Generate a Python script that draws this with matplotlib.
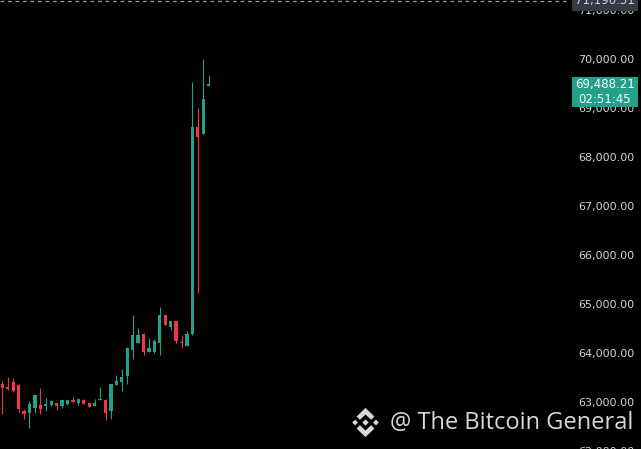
import numpy as np
import matplotlib
matplotlib.use("Agg")
import matplotlib.pyplot as plt
import matplotlib.transforms as mtransforms
from matplotlib.patches import Rectangle, Polygon


# candles
opens = [63367, 63306, 63408, 63346, 62816, 62775, 62877, 62938, 62918, 62938,
         62979, 62918, 62959, 63040, 62979, 63040, 62979, 62918, 63040, 63040,
         62816, 63346, 63408, 63530, 64061, 64204, 64387, 64020, 64020, 64204,
         64775, 64530, 64653, 64224, 64142, 64387, 68612, 68469, 69450]
highs = [63428, 63510, 63489, 63360, 62856, 63020, 63150, 63285, 63081, 63040,
         62985, 63045, 63045, 63102, 63065, 63061, 63000, 63061, 63306, 63061,
         63375, 63550, 63673, 64122, 64775, 64510, 64408, 64306, 64285, 64938,
         64780, 64660, 64660, 64367, 64448, 69531, 69000, 70000, 69673]
lows = [62754, 63250, 63210, 62795, 62652, 62469, 62775, 62754, 62816, 62918,
        62836, 62877, 62938, 62979, 62938, 62955, 62895, 62915, 63035, 62632,
        62652, 63340, 63224, 63367, 63877, 64200, 63959, 64015, 63999, 63959,
        64565, 64469, 64204, 64102, 64135, 64367, 65224, 68465, 69440]
closes = [63285, 63265, 63224, 62856, 62754, 62959, 63142, 62856, 62959, 63020,
          62918, 63040, 63040, 63000, 63061, 62959, 62897, 62979, 63061, 62775,
          63367, 63428, 63510, 64102, 64367, 64367, 64020, 64102, 64244, 64775,
          64571, 64653, 64244, 64204, 64387, 68612, 68408, 69184, 69488.21]

price_ticks = [62000, 63000, 64000, 65000, 66000, 67000, 68000, 69000, 70000, 71000]
last_price = 69488.21
countdown = "02:51:45"
high_line = 71190.51
watermark = "@ The Bitcoin General"

up_col = "#22a08a"
down_col = "#f23645"
bg = "#000000"

W, H = 641, 449
fig = plt.figure(figsize=(W / 100, H / 100), dpi=100, facecolor=bg)
# axes a bit taller than the figure so the 62k / 71k labels get cut like in the screenshot
ax = fig.add_axes([0, -10 / H, 570 / W, (H + 20) / H], facecolor=bg)

x = np.arange(len(opens))
o = np.array(opens)
c = np.array(closes)
cols = [up_col if cc >= oo else down_col for oo, cc in zip(o, c)]
bottoms = np.minimum(o, c)
heights = np.maximum(np.abs(c - o), 22)

ax.vlines(x, lows, highs, colors=cols, linewidth=0.8, zorder=2)
ax.bar(x, heights, bottom=bottoms, width=0.6, color=cols, linewidth=0, zorder=3)

ax.set_xlim(-0.42, 104.5)
ax.set_ylim(61836, 71408)

ax.yaxis.tick_right()
ax.set_yticks(price_ticks)
ax.set_yticklabels([f"{t:,.2f}" for t in price_ticks])
ax.tick_params(axis="y", length=0, pad=6, labelsize=8, labelcolor="#d1d4dc")
ax.set_xticks([])
for s in ax.spines.values():
    s.set_visible(False)

# dashed high line + gray tag
ax.axhline(high_line, xmin=0, xmax=1.0, color="#9598a1", linewidth=0.9,
           linestyle=(0, (3, 3)), zorder=1)
trans = mtransforms.blended_transform_factory(fig.transFigure, ax.transData)
px = 20.41  # price per pixel
fig.patches.append(Rectangle((572 / W, high_line - 10 * px), 66 / W, 20 * px,
                             transform=trans, facecolor="#363a45", edgecolor="none",
                             zorder=5))
fig.text(605 / W, high_line, f"{high_line:,.2f}", transform=trans, ha="center",
         va="center", fontsize=8.5, color="#d1d4dc", zorder=6)

# last price tag
fig.patches.append(Rectangle((572 / W, last_price - 23 * px), 66 / W, 30 * px,
                             transform=trans, facecolor=up_col, edgecolor="none",
                             zorder=5))
fig.text(605 / W, last_price, f"{last_price:,.2f}", transform=trans, ha="center",
         va="center", fontsize=8.5, color="white", zorder=6)
fig.text(605 / W, last_price - 15 * px, countdown, transform=trans, ha="center",
         va="center", fontsize=8.5, color="white", zorder=6)

# watermark
fig.text(633 / W, 1 - 423 / H, watermark, ha="right", va="center",
         fontsize=17, color="#d8d8d8", family="Open Sans", zorder=6)

# binance logo
lax = fig.add_axes([351 / W, 1 - 437 / H, 29 / W, 29 / H])
lax.set_xlim(-1, 1)
lax.set_ylim(-1, 1)
lax.axis("off")
lc = "#d8d8d8"
def diamond(cx, cy, r):
    return Polygon([(cx - r, cy), (cx, cy + r), (cx + r, cy), (cx, cy - r)],
                   closed=True, facecolor=lc, edgecolor="none")
lax.add_patch(diamond(0, 0, 0.22))
lax.add_patch(diamond(-0.72, 0, 0.2))
lax.add_patch(diamond(0.72, 0, 0.2))
lax.plot([-0.5, 0, 0.5], [0.3, 0.78, 0.3], color=lc, linewidth=3.4,
         solid_joinstyle="miter", solid_capstyle="butt")
lax.plot([-0.5, 0, 0.5], [-0.3, -0.78, -0.3], color=lc, linewidth=3.4,
         solid_joinstyle="miter", solid_capstyle="butt")

fig.savefig("out.png", dpi=100, facecolor=bg)
plt.close()
